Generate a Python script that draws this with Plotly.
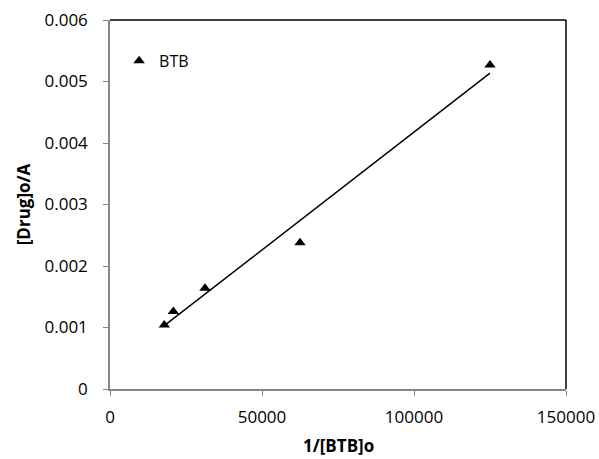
import numpy as np
import plotly.graph_objects as go

x_vals = [17857, 20833, 31250, 62500, 125000]
y_vals = [0.00104, 0.00126, 0.00164, 0.00238, 0.00527]
series_name = "BTB"
x_ticks = [0, 50000, 100000, 150000]
y_ticks = [0, 0.001, 0.002, 0.003, 0.004, 0.005, 0.006]
y_tick_text = ["0", "0.001", "0.002", "0.003", "0.004", "0.005", "0.006"]
x_title = "1/[BTB]o"
y_title = "[Drug]o/A"

slope, intercept = np.polyfit(x_vals, y_vals, 1)
fit_x = [min(x_vals), max(x_vals)]
fit_y = [slope * v + intercept for v in fit_x]

font_family = "Open Sans, Liberation Sans, sans-serif"

fig = go.Figure()
fig.add_trace(go.Scatter(x=fit_x, y=fit_y, mode="lines",
                         line=dict(color="black", width=1.5),
                         showlegend=False, hoverinfo="skip"))
fig.add_trace(go.Scatter(x=x_vals, y=y_vals, mode="markers", name=series_name,
                         marker=dict(symbol="triangle-up", size=10, color="black")))

axis_common = dict(showgrid=False, zeroline=False, showline=True,
                   linecolor="#868686", linewidth=1.5, ticks="outside",
                   tickcolor="#868686", ticklen=5, tickwidth=1, automargin=False,
                   tickfont=dict(family=font_family, size=17, color="black"))

fig.update_xaxes(range=[0, 150000], tickvals=x_ticks,
                 ticktext=[str(v) for v in x_ticks], ticklabelstandoff=7,
                 **axis_common)
fig.update_yaxes(range=[0, 0.006], tickvals=y_ticks, ticktext=y_tick_text,
                 ticklabelstandoff=12,
                 title=dict(text="<b>" + y_title + "</b>", font=dict(family=font_family, size=17, color="black"), standoff=10),
                 **axis_common)

fig.add_annotation(text="<b>" + x_title + "</b>", xref="paper", yref="paper",
                   x=0.5, y=-0.152, xanchor="center", yanchor="middle",
                   showarrow=False, font=dict(family=font_family, size=17, color="black"))

fig.add_shape(type="line", xref="paper", yref="paper", x0=0, x1=1, y0=1, y1=1,
              line=dict(color="black", width=1.5))
fig.add_shape(type="line", xref="paper", yref="paper", x0=1, x1=1, y0=0, y1=1,
              line=dict(color="black", width=1.5))

fig.update_layout(
    width=599, height=459,
    margin=dict(l=110, r=33, t=20, b=70),
    plot_bgcolor="white", paper_bgcolor="white",
    font=dict(family=font_family, size=17, color="black"),
    legend=dict(x=0.02, y=0.889, xanchor="left", yanchor="middle",
                bgcolor="rgba(0,0,0,0)", font=dict(size=16),
                itemwidth=30, tracegroupgap=0),
)

fig.write_html("out.html")
